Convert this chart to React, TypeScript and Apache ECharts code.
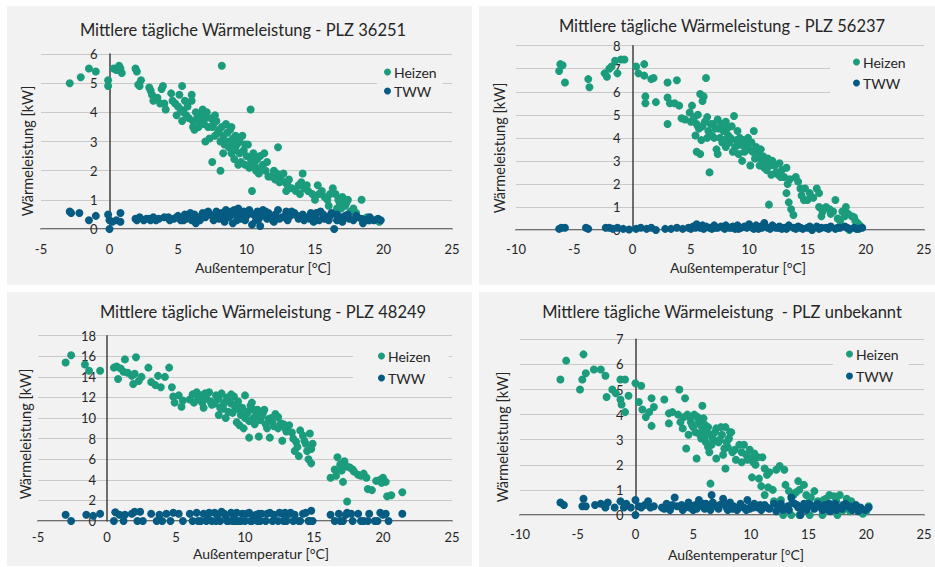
import React, { useEffect, useRef } from "react";
import * as echarts from "echarts";

const panelTitles = [
  "Mittlere tägliche Wärmeleistung - PLZ 36251",
  "Mittlere tägliche Wärmeleistung - PLZ 56237",
  "Mittlere tägliche Wärmeleistung - PLZ 48249",
  "Mittlere tägliche Wärmeleistung  - PLZ unbekannt",
];
const seriesNames = ["Heizen", "TWW"];
const xAxisTitle = "Außentemperatur [°C]";
const yAxisTitle = "Wärmeleistung [kW]";
const xMins = [-5, -10, -5, -10];
const xMaxs = [25, 25, 25, 25];
const xSteps = [5, 5, 5, 5];
const yMins = [0, 0, 0, 0];
const yMaxs = [6, 8, 18, 7];
const ySteps = [1, 1, 2, 1];

const p1Heizen = [
  [-2.9, 5.0], [-2.1, 5.2], [-1.5, 5.5], [-1.0, 5.4], [-0.1, 5.1], [-0.1, 4.9], [0.3, 5.5], [0.5, 5.45], [0.7, 5.6], [0.8, 5.5],
  [0.9, 5.35], [1.9, 5.5], [2.0, 5.4], [2.1, 4.95], [2.3, 5.1], [2.2, 4.9], [2.9, 4.85], [3.0, 4.75], [3.1, 4.6], [3.2, 4.4],
  [3.8, 4.8], [3.9, 4.9], [3.7, 4.3], [4.0, 4.3], [4.5, 4.65], [4.6, 4.4], [5.1, 4.6], [5.3, 4.9], [5.5, 4.4], [6.0, 4.6],
  [6.0, 4.4], [5.2, 4.1], [5.4, 4.0], [5.6, 3.9], [5.3, 3.7], [5.8, 3.8], [6.1, 3.7], [6.3, 4.0], [6.5, 3.9], [6.7, 3.75],
  [6.8, 4.1], [6.9, 3.6], [7.1, 4.0], [7.2, 3.5], [7.4, 3.8], [7.5, 3.5], [6.2, 3.4], [6.5, 3.5], [7.0, 3.0], [7.3, 3.1],
  [7.6, 3.6], [7.8, 3.7], [8.0, 3.4], [8.2, 3.5], [8.3, 3.2], [8.5, 3.6], [8.1, 3.0], [8.4, 2.9], [8.6, 3.3], [8.7, 2.8],
  [8.8, 3.4], [9.0, 3.1], [9.2, 3.2], [8.9, 2.6], [9.1, 2.4], [9.3, 2.9], [9.5, 3.0], [9.7, 3.2], [9.8, 2.7], [10.0, 2.5],
  [10.1, 2.9], [9.6, 2.3], [9.4, 2.2], [10.3, 2.4], [10.5, 2.6], [10.6, 2.2], [10.2, 2.1], [10.8, 2.4], [11.0, 2.5], [11.2, 2.2],
  [11.4, 2.0], [10.9, 1.9], [11.6, 1.8], [12.0, 2.0], [12.2, 1.9], [12.5, 1.7], [12.1, 1.7], [12.8, 1.6], [13.0, 1.5], [13.3, 1.4],
  [13.6, 1.3], [14.0, 1.6], [14.2, 1.4], [14.5, 1.3], [14.8, 1.2], [15.2, 1.5], [15.5, 1.3], [15.7, 1.1], [15.0, 1.0], [16.3, 1.4],
  [16.5, 1.2], [16.8, 0.9], [17.0, 1.1], [17.2, 0.8], [17.4, 1.0], [16.6, 0.7], [17.6, 0.6], [18.4, 1.0], [18.0, 0.55], [18.8, 0.4],
  [19.0, 0.3], [16.0, 0.8], [14.1, 1.9], [12.3, 2.8], [10.3, 4.1], [10.4, 1.3], [8.2, 5.6], [8.1, 2.0], [7.5, 2.3], [4.1, 4.1],
  [4.8, 4.3], [3.5, 4.5], [6.4, 3.8], [7.7, 3.2], [9.0, 2.9], [11.8, 1.8], [13.8, 1.5], [15.9, 1.0], [12.7, 1.9], [11.3, 2.6],
  [10.7, 2.0], [16.9, 0.7], [17.8, 0.7], [19.7, 0.25],
  [5.7, 4.2], [6.6, 3.6], [7.0, 3.8], [7.9, 3.3], [8.6, 3.0], [9.5, 2.6], [9.9, 2.9], [10.4, 2.3], [11.1, 2.1], [11.5, 2.3],
  [12.4, 1.6], [13.1, 1.7], [13.9, 1.2], [14.4, 1.5], [15.3, 1.2], [16.1, 1.2], [16.7, 1.0], [17.3, 0.9], [6.9, 4.0], [7.7, 3.9],
  [8.9, 3.5], [9.2, 2.7], [10.6, 2.5], [12.9, 1.3], [5.0, 4.2], [4.9, 3.9], [6.1, 3.5], [8.3, 2.6], [9.9, 2.2], [11.0, 2.0],
];
const p1TWW = [
  [-2.9, 0.6], [-2.8, 0.55], [-2.2, 0.55], [-1.5, 0.3], [-1.0, 0.45], [-0.1, 0.5], [0.0, 0.0], [0.0, 0.3], [0.2, 0.25], [0.5, 0.3],
  [0.8, 0.55], [0.8, 0.25], [1.9, 0.35], [2.2, 0.4], [2.5, 0.3], [2.9, 0.35], [3.2, 0.4], [3.6, 0.35], [4.0, 0.4], [4.3, 0.4],
  [4.7, 0.35], [5.0, 0.45], [5.2, 0.3], [5.5, 0.5], [5.8, 0.45], [6.0, 0.3], [6.2, 0.5], [6.5, 0.4], [6.8, 0.55], [7.0, 0.4],
  [7.2, 0.6], [7.5, 0.45], [7.8, 0.6], [8.0, 0.35], [8.2, 0.55], [8.5, 0.65], [8.7, 0.4], [8.9, 0.6], [9.0, 0.2], [9.2, 0.5],
  [9.4, 0.7], [9.6, 0.35], [9.8, 0.6], [10.0, 0.45], [10.2, 0.65], [10.4, 0.15], [10.5, 0.5], [10.8, 0.6], [11.0, 0.1], [11.2, 0.65],
  [11.5, 0.35], [11.8, 0.4], [12.1, 0.5], [12.3, 0.65], [12.6, 0.4], [12.9, 0.6], [13.2, 0.45], [13.5, 0.55], [13.8, 0.35], [14.1, 0.5],
  [14.4, 0.4], [14.7, 0.55], [15.0, 0.45], [15.3, 0.3], [15.6, 0.5], [15.9, 0.4], [16.2, 0.55], [16.4, 0.0], [16.6, 0.5], [16.9, 0.4],
  [17.2, 0.45], [17.5, 0.35], [17.8, 0.3], [18.1, 0.4], [18.4, 0.35], [18.7, 0.3], [19.0, 0.4], [19.3, 0.3], [19.6, 0.35], [19.8, 0.3],
  [6.3, 0.2], [7.6, 0.3], [8.4, 0.25], [9.3, 0.3], [10.9, 0.35], [12.0, 0.25], [13.0, 0.3], [14.9, 0.25], [16.0, 0.3], [17.0, 0.25],
  [18.5, 0.2], [5.6, 0.35], [4.4, 0.3], [3.0, 0.3], [9.7, 0.5], [11.6, 0.55], [13.7, 0.45], [15.4, 0.6], [7.3, 0.5], [8.8, 0.45],
  [2.0, 0.3], [2.7, 0.35], [3.4, 0.3], [4.9, 0.4], [5.4, 0.3], [5.9, 0.55], [6.6, 0.3], [7.1, 0.55], [7.9, 0.5], [8.3, 0.4],
  [8.6, 0.55], [9.1, 0.65], [9.5, 0.45], [9.9, 0.3], [10.3, 0.55], [10.7, 0.3], [11.1, 0.45], [11.4, 0.6], [11.9, 0.3], [12.4, 0.35],
  [12.8, 0.45], [13.3, 0.6], [13.9, 0.4], [14.2, 0.3], [14.6, 0.35], [15.1, 0.55], [15.7, 0.35], [16.1, 0.45], [16.6, 0.3], [17.4, 0.5],
  [18.0, 0.45], [18.9, 0.3],
];

const p2Heizen = [
  [-6.3, 6.9], [-6.2, 7.2], [-6.0, 7.15], [-5.8, 6.4], [-3.8, 6.55], [-3.7, 6.2], [-2.4, 6.8], [-2.2, 6.65], [-2.0, 7.0], [-1.8, 7.1],
  [-1.5, 7.35], [-1.3, 6.8], [-1.0, 7.4], [-0.7, 7.4], [0.3, 7.1], [0.5, 6.8], [1.0, 6.7], [1.0, 7.2], [1.1, 5.8], [1.1, 5.5],
  [1.6, 6.55], [1.8, 6.6], [2.0, 5.55], [3.0, 6.4], [3.0, 5.75], [3.0, 4.6], [3.2, 5.5], [3.8, 6.5], [3.6, 5.5], [4.0, 5.4],
  [4.2, 4.85], [4.5, 4.8], [4.9, 5.1], [5.0, 4.7], [5.1, 5.4], [5.3, 4.9], [5.5, 4.6], [5.6, 5.0], [5.7, 4.4], [5.8, 5.9],
  [6.0, 5.6], [6.1, 5.8], [6.3, 6.6], [5.4, 4.1], [5.9, 3.9], [6.0, 4.5], [6.2, 4.7], [6.5, 4.3], [6.8, 4.1], [6.9, 4.6],
  [7.1, 4.4], [7.3, 4.8], [7.5, 4.0], [7.6, 4.6], [7.8, 4.3], [8.0, 4.7], [8.2, 4.1], [8.5, 4.5], [8.7, 4.95], [8.3, 3.8],
  [7.9, 3.9], [8.8, 3.6], [9.0, 4.3], [9.2, 4.0], [9.3, 3.7], [9.5, 3.9], [9.7, 3.6], [9.9, 4.0], [10.0, 3.5], [10.2, 3.8],
  [10.4, 4.3], [10.6, 3.6], [10.8, 3.3], [11.0, 3.5], [11.2, 3.2], [11.4, 3.0], [11.6, 3.1], [11.8, 2.8], [12.0, 3.0], [11.3, 2.7],
  [10.1, 2.8], [9.1, 3.3], [8.6, 3.4], [7.3, 3.3], [7.2, 3.5], [5.8, 3.3], [5.5, 3.4], [6.6, 2.5], [12.3, 2.5], [12.5, 2.4],
  [12.8, 2.6], [13.0, 2.3], [13.3, 2.0], [13.2, 1.6], [13.4, 1.2], [13.6, 0.9], [13.8, 0.65], [14.0, 2.3], [14.2, 2.1], [14.5, 1.5],
  [14.7, 1.3], [15.0, 1.3], [15.8, 1.8], [16.0, 1.6], [16.0, 1.0], [16.3, 0.8], [16.6, 1.0], [16.9, 0.9], [17.0, 0.7], [17.4, 1.3],
  [17.6, 0.5], [17.8, 0.4], [18.3, 1.0], [18.5, 0.7], [18.8, 0.6], [19.0, 0.55], [19.5, 0.2], [11.7, 1.1], [13.2, 2.7], [12.6, 2.9],
  [14.8, 1.8], [15.2, 1.6], [10.5, 3.1], [9.4, 3.0], [18.0, 0.8], [16.2, 0.6], [19.1, 0.4], [18.6, 0.0],
  [5.2, 4.8], [5.6, 4.5], [6.4, 4.9], [6.7, 4.6], [7.0, 4.0], [7.4, 4.4], [7.7, 3.8], [8.1, 4.4], [8.4, 4.0], [8.9, 3.9],
  [9.6, 3.4], [9.8, 3.8], [10.3, 3.4], [10.7, 3.2], [11.1, 3.0], [11.5, 2.6], [11.9, 2.4], [12.2, 2.8], [12.7, 2.3], [13.5, 2.2],
  [14.4, 1.8], [15.5, 1.4], [16.4, 0.9], [17.2, 0.8], [18.2, 0.6], [19.3, 0.3], [6.4, 4.0], [8.0, 3.6], [9.0, 3.7], [10.9, 2.8],
];
const p2TWW = [
  [-6.3, 0.05], [-6.1, 0.1], [-5.8, 0.1], [-4.0, 0.1], [-3.8, 0.05], [-2.3, 0.1], [-2.0, 0.1], [-1.7, 0.05], [-1.3, 0.1], [-0.8, 0.05],
  [-0.3, 0.02], [0.3, 0.05], [0.7, 0.1], [1.2, 0.05], [1.6, 0.1], [2.0, 0.0], [2.8, 0.05], [3.3, 0.05], [3.8, 0.1], [4.3, 0.05],
  [4.8, 0.1], [5.2, 0.15], [5.5, 0.25], [5.8, 0.1], [6.0, 0.2], [6.3, 0.15], [6.6, 0.1], [7.0, 0.2], [7.3, 0.1], [7.6, 0.15],
  [8.0, 0.2], [8.3, 0.1], [8.6, 0.15], [9.0, 0.2], [9.3, 0.1], [9.6, 0.15], [10.0, 0.25], [10.3, 0.1], [10.6, 0.2], [11.0, 0.15],
  [11.3, 0.3], [11.6, 0.1], [12.0, 0.2], [12.3, 0.1], [12.6, 0.15], [13.0, 0.1], [13.4, 0.2], [13.8, 0.1], [14.2, 0.15], [14.6, 0.05],
  [15.0, 0.1], [15.4, 0.0], [15.8, 0.15], [16.2, 0.1], [16.6, 0.1], [17.0, 0.15], [17.4, 0.05], [17.8, 0.1], [18.2, 0.15], [18.6, 0.05],
  [19.0, 0.1], [19.4, 0.05], [19.7, 0.1], [6.8, 0.05], [8.8, 0.05], [10.8, 0.05], [12.8, 0.05], [5.0, 0.05],
  [5.4, 0.1], [6.1, 0.05], [7.1, 0.1], [7.9, 0.05], [8.5, 0.1], [9.1, 0.05], [9.8, 0.1], [10.4, 0.05], [11.1, 0.1], [11.8, 0.05],
  [12.5, 0.1], [13.2, 0.05], [14.0, 0.05], [14.4, 0.1], [15.2, 0.15], [16.0, 0.05], [16.8, 0.05], [17.6, 0.1], [18.4, 0.1], [19.2, 0.05],
];

const p3Heizen = [
  [-3.0, 15.4], [-2.6, 16.1], [-1.6, 15.2], [-1.3, 14.6], [-0.5, 14.6], [0.5, 14.9], [0.7, 15.0], [0.8, 13.8], [1.0, 14.8], [1.2, 14.5],
  [1.3, 15.7], [1.5, 14.4], [1.8, 14.1], [1.9, 13.3], [2.0, 14.3], [2.1, 15.9], [2.3, 13.6], [2.5, 14.0], [3.0, 14.9], [3.2, 13.5],
  [3.5, 13.2], [3.7, 14.1], [3.9, 13.0], [4.2, 14.0], [4.5, 14.9], [4.7, 13.0], [4.8, 12.1], [4.9, 11.5], [5.2, 12.2], [5.5, 11.7],
  [5.4, 11.1], [6.2, 12.3], [6.5, 12.5], [6.8, 12.2], [6.9, 11.5], [7.2, 11.9], [7.4, 12.5], [7.6, 11.3], [7.9, 12.2], [8.0, 11.8],
  [8.2, 11.0], [8.3, 12.4], [8.5, 11.5], [8.7, 12.0], [8.8, 10.6], [9.0, 11.4], [9.2, 12.1], [9.3, 10.9], [9.5, 11.6], [9.7, 10.3],
  [9.8, 11.0], [10.0, 12.2], [10.2, 10.6], [10.4, 11.2], [10.6, 10.0], [10.7, 9.4], [10.9, 10.8], [11.1, 9.8], [11.3, 10.5], [11.5, 9.4],
  [11.7, 9.9], [12.0, 9.6], [12.2, 10.4], [12.4, 9.0], [11.8, 8.1], [12.6, 9.5], [12.8, 9.4], [13.0, 8.7], [13.2, 9.3], [13.5, 8.0],
  [13.7, 7.7], [14.0, 8.8], [14.2, 8.3], [14.4, 7.5], [14.5, 6.8], [14.7, 8.5], [14.9, 7.5], [14.8, 5.6], [14.6, 6.0], [13.9, 6.3],
  [13.6, 6.8], [10.3, 8.1], [9.6, 9.3], [8.6, 10.0], [9.9, 9.0], [11.0, 8.2], [12.7, 7.8], [16.2, 4.2], [16.5, 5.0], [16.7, 6.2],
  [17.0, 4.9], [17.2, 5.8], [17.4, 5.3], [17.1, 3.8], [17.4, 1.9], [17.8, 5.0], [18.2, 4.5], [18.6, 4.6], [18.9, 3.1], [19.2, 3.0],
  [19.5, 3.9], [19.8, 4.0], [20.0, 4.2], [20.2, 3.8], [20.3, 2.4], [20.6, 2.5], [21.4, 2.8], [18.8, 4.2], [17.9, 4.8], [16.6, 4.4],
  [11.4, 10.8], [10.0, 10.0], [8.1, 10.3], [7.0, 11.0], [6.0, 11.8], [12.4, 10.1], [13.8, 7.2], [9.4, 9.6], [8.4, 10.9], [10.5, 11.5],
  [6.6, 11.8], [7.1, 12.4], [7.5, 11.6], [7.8, 11.4], [8.1, 12.0], [8.4, 11.2], [8.9, 11.8], [9.1, 10.5], [9.4, 11.2], [9.6, 10.8],
  [10.1, 10.4], [10.3, 9.7], [10.8, 10.2], [11.2, 10.2], [11.6, 9.0], [12.1, 9.2], [12.9, 9.0], [13.4, 8.6], [14.3, 7.8], [14.8, 7.0],
  [16.9, 5.5], [17.6, 5.2], [18.4, 4.4], [19.9, 3.7], [6.3, 11.5], [9.0, 12.3], [10.6, 10.8], [11.9, 10.0],
];
const p3TWW = [
  [-3.0, 0.6], [-2.6, 0.0], [-1.5, 0.6], [-1.0, 0.5], [-0.5, 0.7], [0.5, 0.0], [0.6, 0.85], [0.9, 0.6], [1.2, 0.0], [1.3, 0.6],
  [1.8, 0.7], [2.0, 0.9], [2.2, 0.0], [2.4, 0.9], [2.6, 0.0], [3.2, 0.7], [3.6, 0.0], [3.8, 0.6], [4.0, 0.0], [4.3, 0.7],
  [4.6, 0.0], [4.8, 0.8], [5.2, 0.7], [5.5, 0.0], [6.2, 0.0], [6.5, 0.8], [6.8, 0.0], [7.0, 0.7], [7.3, 0.5], [7.6, 0.0],
  [7.8, 0.8], [8.0, 0.6], [8.2, 0.0], [8.5, 0.7], [8.8, 0.0], [9.0, 0.8], [9.2, 0.5], [9.5, 0.0], [9.8, 0.7], [10.0, 0.0],
  [10.3, 0.8], [10.6, 0.5], [10.9, 0.0], [11.2, 0.7], [11.5, 0.0], [11.8, 0.8], [12.1, 0.6], [12.4, 0.0], [12.7, 0.7], [13.0, 0.0],
  [13.3, 0.8], [13.6, 0.6], [13.9, 0.0], [14.2, 0.7], [14.6, 0.0], [14.8, 1.0], [14.9, 0.0], [16.2, 0.6], [16.5, 0.0], [16.8, 0.7],
  [17.1, 0.0], [17.4, 0.8], [17.8, 0.0], [18.2, 0.7], [18.6, 0.0], [19.0, 0.7], [19.4, 0.0], [19.8, 0.8], [20.2, 0.7], [20.4, 0.0],
  [21.4, 0.7], [7.2, 0.0], [8.7, 0.0], [9.3, 0.0], [10.5, 0.0], [11.0, 0.7], [12.9, 0.8], [14.0, 0.0], [18.9, 0.0], [17.3, 0.6],
  [6.0, 0.7], [6.6, 0.0], [7.4, 0.8], [7.9, 0.0], [8.3, 0.9], [8.6, 0.5], [9.1, 0.0], [9.4, 0.8], [9.7, 0.0], [10.1, 0.7],
  [10.4, 0.0], [10.8, 0.6], [11.1, 0.0], [11.6, 0.7], [12.0, 0.0], [12.5, 0.8], [12.8, 0.0], [13.1, 0.6], [13.5, 0.0], [14.4, 0.8],
  [14.7, 0.0], [16.9, 0.0], [17.7, 0.7], [18.4, 0.0], [19.6, 0.0], [20.0, 0.6],
];

const p4Heizen = [
  [-6.5, 5.4], [-6.0, 6.15], [-4.5, 6.4], [-4.8, 5.0], [-4.6, 5.4], [-4.3, 5.65], [-3.6, 5.8], [-3.0, 5.8], [-2.6, 5.55], [-2.5, 4.7],
  [-2.0, 5.0], [-1.7, 4.85], [-1.3, 5.4], [-1.3, 4.6], [-1.2, 4.4], [-0.9, 4.1], [-0.9, 5.4], [-0.6, 4.75], [0.0, 5.25], [0.3, 4.5],
  [0.5, 5.15], [0.6, 4.2], [0.9, 3.9], [1.2, 4.1], [1.4, 3.55], [1.4, 4.65], [1.6, 4.3], [2.5, 4.6], [2.9, 4.05], [2.9, 3.65],
  [3.2, 4.1], [3.8, 5.0], [3.7, 4.0], [3.9, 3.7], [4.3, 4.65], [4.1, 3.45], [4.5, 4.0], [4.6, 3.2], [4.4, 2.65], [4.8, 3.7],
  [5.1, 4.0], [5.2, 3.3], [5.3, 2.25], [5.5, 3.7], [5.7, 3.05], [5.8, 3.45], [5.9, 3.85], [6.1, 2.9], [6.2, 3.3], [6.4, 2.5],
  [6.7, 3.05], [7.0, 3.45], [7.0, 2.25], [6.5, 1.25], [7.2, 2.9], [7.5, 3.2], [7.7, 2.65], [7.8, 3.5], [8.1, 3.05], [7.8, 1.85],
  [8.3, 3.3], [8.4, 2.5], [8.7, 2.2], [9.0, 2.8], [9.4, 2.8], [9.6, 2.4], [9.9, 2.6], [10.0, 2.25], [10.3, 2.45], [10.4, 2.0],
  [11.0, 2.3], [11.2, 1.85], [10.7, 1.45], [10.9, 1.15], [11.2, 0.8], [11.6, 1.7], [11.9, 1.0], [12.5, 1.95], [12.9, 1.8], [12.6, 0.6],
  [13.3, 0.95], [14.1, 1.35], [14.2, 1.0], [14.6, 1.2], [14.8, 0.8], [15.5, 0.95], [15.8, 0.55], [16.5, 0.65], [16.8, 0.8], [17.4, 0.55],
  [17.7, 0.8], [18.3, 0.65], [18.7, 0.55], [19.4, 0.25], [20.2, 0.35], [12.8, 0.0], [14.2, 0.0], [15.1, 0.0], [16.2, 0.0], [18.6, 0.15],
  [19.7, 0.05], [12.0, 0.55], [5.8, 4.35], [5.0, 3.5], [5.6, 3.2], [6.0, 3.6], [6.5, 3.2], [7.3, 3.0], [6.3, 2.7], [8.0, 2.7],
  [5.4, 3.9], [4.7, 3.9], [7.6, 2.4], [9.2, 2.1], [10.1, 1.5], [11.5, 1.1], [13.7, 0.8], [15.2, 0.7], [16.0, 0.4], [17.0, 0.3],
  [18.0, 0.2],
  [4.2, 3.9], [4.9, 3.6], [5.3, 3.9], [5.6, 3.6], [6.0, 3.1], [6.3, 3.5], [6.6, 2.8], [6.9, 3.3], [7.4, 3.5], [7.9, 2.9],
  [8.2, 3.3], [8.6, 2.6], [9.2, 2.5], [9.7, 2.2], [10.2, 2.1], [10.6, 2.3], [11.4, 1.6], [12.2, 1.8], [13.0, 1.2], [13.9, 0.9],
  [15.0, 0.5], [16.3, 0.6], [17.2, 0.75], [18.2, 0.4], [19.0, 0.3], [20.0, 0.15], [13.5, 0.0], [17.5, 0.0],
];
const p4TWW = [
  [-6.5, 0.5], [-6.2, 0.4], [-4.6, 0.35], [-4.5, 0.65], [-4.3, 0.35], [-3.5, 0.4], [-3.0, 0.45], [-2.6, 0.3], [-2.4, 0.5], [-1.8, 0.3],
  [-1.3, 0.55], [-1.0, 0.3], [-0.8, 0.45], [-0.4, 0.3], [0.0, 0.6], [0.0, 0.0], [0.3, 0.35], [0.5, 0.3], [0.8, 0.4], [1.1, 0.55],
  [1.3, 0.3], [1.6, 0.35], [2.3, 0.3], [2.7, 0.45], [3.0, 0.3], [3.4, 0.7], [3.6, 0.35], [4.0, 0.4], [4.3, 0.3], [4.6, 0.5],
  [4.9, 0.35], [5.2, 0.4], [5.5, 0.6], [5.8, 0.35], [6.1, 0.45], [6.4, 0.3], [6.7, 0.5], [6.6, 0.8], [7.0, 0.35], [7.3, 0.4],
  [7.6, 0.65], [7.9, 0.3], [8.2, 0.5], [8.5, 0.35], [8.8, 0.2], [9.1, 0.45], [9.4, 0.3], [9.7, 0.6], [10.0, 0.35], [10.3, 0.45],
  [10.6, 0.3], [10.9, 0.2], [11.2, 0.4], [11.6, 0.25], [12.0, 0.45], [12.4, 0.3], [12.8, 0.2], [13.2, 0.35], [13.5, 0.7], [13.8, 0.45],
  [14.1, 0.3], [14.3, 0.0], [14.6, 0.45], [14.9, 0.3], [15.2, 0.4], [15.5, 0.25], [15.8, 0.45], [16.1, 0.3], [16.4, 0.4], [16.7, 0.2],
  [17.0, 0.35], [17.3, 0.45], [17.6, 0.3], [17.9, 0.25], [18.2, 0.45], [18.5, 0.35], [18.8, 0.2], [19.1, 0.4], [19.5, 0.3], [19.9, 0.2],
  [20.2, 0.3], [5.0, 0.2], [6.0, 0.25], [8.0, 0.2], [9.9, 0.25], [12.2, 0.15], [14.8, 0.2], [16.9, 0.15], [3.0, 0.2],
  [2.5, 0.25], [3.2, 0.4], [4.1, 0.2], [4.7, 0.3], [5.3, 0.25], [5.9, 0.45], [6.5, 0.2], [7.2, 0.25], [7.8, 0.45], [8.4, 0.25],
  [9.0, 0.3], [9.6, 0.2], [10.2, 0.3], [10.8, 0.4], [11.4, 0.3], [12.6, 0.45], [13.3, 0.2], [13.6, 0.5], [14.0, 0.4], [14.4, 0.25],
  [15.0, 0.45], [15.6, 0.35], [16.2, 0.2], [16.8, 0.45], [17.4, 0.2], [18.0, 0.4], [18.6, 0.3], [19.3, 0.15],
];

const heizenData = [p1Heizen, p2Heizen, p3Heizen, p4Heizen];
const twwData = [p1TWW, p2TWW, p3TWW, p4TWW];

// ---- layout / style (not data) ----
const FONT = "Lato, 'Noto Sans', sans-serif";
const TEXT = "#262626";
const GREEN = "#1b9c7c";
const BLUE = "#065b82";
const PANEL_BG = "#f2f2f2";

const layouts = [
  {
    bg: [7, 6, 465, 279],
    grid: { left: 41, top: 54, width: 411, height: 175 },
    title: [243, 30], xName: [263, 267], yName: [27, 151], xLabelMargin: 13, yLabelMargin: 12,
    legend: { left: 377, top: 59, padding: [5, 6, 5, 7], itemGap: 3 },
  },
  {
    bg: [479, 6, 456, 279],
    grid: { left: 516, top: 45.7, width: 408, height: 184.3 },
    title: [722, 26], xName: [738, 267], yName: [499, 148], xLabelMargin: 12, yLabelMargin: 12,
    legend: { left: 830, top: 46, padding: [8, 19, 6, 23], itemGap: 5 },
  },
  {
    bg: [7, 292, 465, 274],
    grid: { left: 38, top: 335.7, width: 414, height: 185.3 },
    title: [263, 312], xName: [261, 553], yName: [25, 434], xLabelMargin: 9, yLabelMargin: 11,
    legend: { left: 353, top: 340, padding: [8, 18, 6, 25], itemGap: 6 },
  },
  {
    bg: [479, 292, 456, 275],
    grid: { left: 520, top: 339.3, width: 404, height: 175.7 },
    title: [722, 312], xName: [736, 554], yName: [502, 437], xLabelMargin: 12, yLabelMargin: 12,
    legend: { left: 833, top: 341, padding: [5, 10, 4, 13], itemGap: 6 },
  },
];

function buildOption() {
  const grid: any[] = [];
  const xAxis: any[] = [];
  const yAxis: any[] = [];
  const series: any[] = [];
  const legend: any[] = [];
  const graphic: any[] = [];

  layouts.forEach((L, i) => {
    grid.push({ ...L.grid, containLabel: false });
    // place the y axis (line + labels) on x = 0 of the value scale
    const zeroShift = ((0 - xMins[i]) / (xMaxs[i] - xMins[i])) * L.grid.width;
    xAxis.push({
      type: "value",
      gridIndex: i,
      min: xMins[i],
      max: xMaxs[i],
      interval: xSteps[i],
      axisLine: { show: true, onZero: true, lineStyle: { color: "#404040", width: 1.5 } },
      axisTick: { show: false },
      splitLine: { show: false },
      axisLabel: { color: TEXT, fontSize: 13, fontFamily: FONT, margin: L.xLabelMargin },
    });
    yAxis.push({
      type: "value",
      gridIndex: i,
      position: "left",
      offset: -zeroShift,
      min: yMins[i],
      max: yMaxs[i],
      interval: ySteps[i],
      axisLine: { show: true, onZero: false, lineStyle: { color: "#404040", width: 1.5 } },
      axisTick: { show: false },
      splitLine: { show: true, lineStyle: { color: "#c9c9c9", width: 1 } },
      axisLabel: { color: TEXT, fontSize: 13, fontFamily: FONT, margin: L.yLabelMargin },
      z: 1,
    });
    series.push({
      type: "scatter",
      name: seriesNames[0],
      xAxisIndex: i,
      yAxisIndex: i,
      data: heizenData[i],
      symbolSize: 8,
      itemStyle: { color: GREEN, opacity: 1 },
      z: 2,
    });
    series.push({
      type: "scatter",
      name: seriesNames[1],
      xAxisIndex: i,
      yAxisIndex: i,
      data: twwData[i],
      symbolSize: 8,
      itemStyle: { color: BLUE, opacity: 1 },
      z: 3,
    });
    legend.push({
      data: seriesNames,
      orient: "vertical",
      left: L.legend.left,
      top: L.legend.top,
      padding: L.legend.padding,
      itemGap: L.legend.itemGap,
      icon: "circle",
      itemWidth: 7,
      itemHeight: 7,
      backgroundColor: PANEL_BG,
      textStyle: { color: TEXT, fontSize: 14, fontFamily: FONT, lineHeight: 16, padding: [0, 0, 0, -2] },
      selectedMode: false,
    });
    graphic.push({
      type: "rect",
      z: -10,
      silent: true,
      shape: { x: L.bg[0], y: L.bg[1], width: L.bg[2], height: L.bg[3] },
      style: { fill: PANEL_BG },
    });
    graphic.push({
      type: "text",
      x: L.title[0],
      y: L.title[1],
      silent: true,
      style: { text: panelTitles[i], fill: TEXT, fontSize: 16.5, fontFamily: FONT, align: "center", verticalAlign: "middle" },
    });
    graphic.push({
      type: "text",
      x: L.xName[0],
      y: L.xName[1],
      silent: true,
      style: { text: xAxisTitle, fill: TEXT, fontSize: 14, fontFamily: FONT, align: "center", verticalAlign: "middle" },
    });
    graphic.push({
      type: "text",
      x: L.yName[0],
      y: L.yName[1],
      rotation: Math.PI / 2,
      silent: true,
      style: { text: yAxisTitle, fill: TEXT, fontSize: 14.5, fontFamily: FONT, align: "center", verticalAlign: "middle" },
    });
  });

  return {
    animation: false,
    backgroundColor: "#ffffff",
    grid,
    xAxis,
    yAxis,
    series,
    legend,
    graphic: { elements: graphic },
  };
}

export default function App() {
  const ref = useRef<HTMLDivElement>(null);
  useEffect(() => {
    if (!ref.current) return;
    const chart = echarts.init(ref.current, undefined, { renderer: "svg" });
    chart.setOption(buildOption() as any);
    return () => chart.dispose();
  }, []);
  return (
    <div
      ref={ref}
      style={{ position: "absolute", left: 0, top: 0, width: 935, height: 567 }}
    />
  );
}
